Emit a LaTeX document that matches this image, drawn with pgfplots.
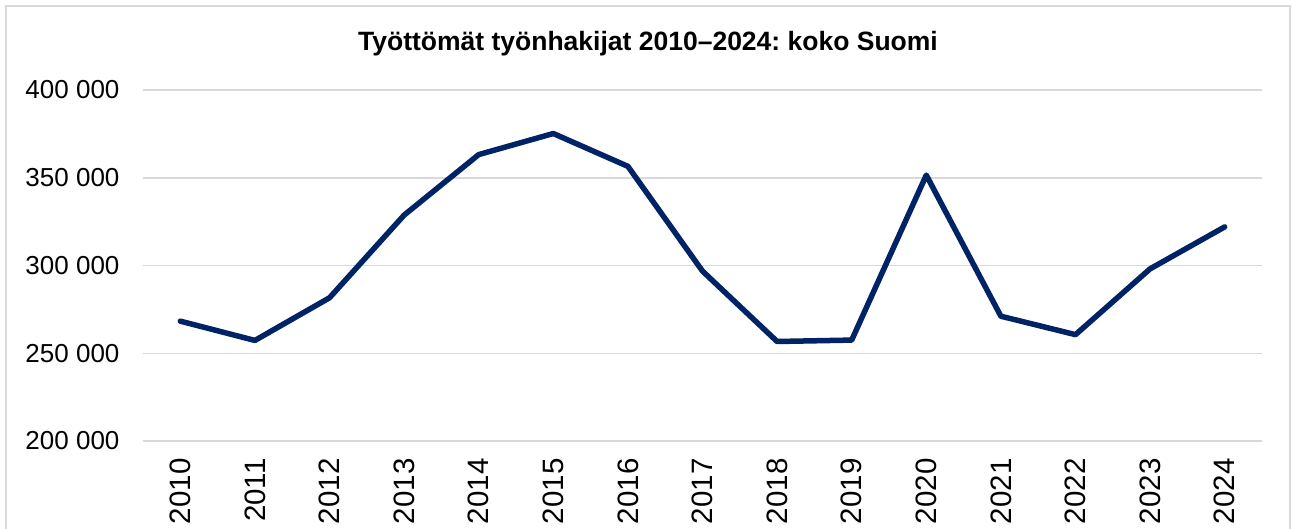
\documentclass[border=0pt]{standalone}
\usepackage{fontspec}
\setmainfont{Liberation Sans}
\usepackage{pgfplots}
\pgfplotsset{compat=1.18}
\definecolor{navy}{RGB}{0,35,102}
\definecolor{gridgray}{RGB}{217,217,217}
\begin{document}
\frenchspacing
\begin{tikzpicture}[x=1pt,y=1pt]
\useasboundingbox (0,0) rectangle (1292,528);
% chart frame (bottom edge cut off)
\draw[gridgray, line width=1.5pt] (6,-5) -- (6,522) -- (1290,522) -- (1290,-5);
\node[font=\bfseries\fontsize{26.5}{30}\selectfont] at (648,484) {Työttömät työnhakijat 2010–2024: koko Suomi};
\begin{axis}[
    at={(143pt,87pt)}, anchor=south west,
    scale only axis,
    width=1119pt, height=351pt,
    xmin=-0.5, xmax=14.5,
    ymin=200000, ymax=400000,
    scaled y ticks=false,
    axis line style={draw=none},
    xtick={0,...,14},
    xticklabels={2010,2011,2012,2013,2014,2015,2016,2017,2018,2019,2020,2021,2022,2023,2024},
    xticklabel style={rotate=90, anchor=east, font=\fontsize{29.5}{32}\selectfont, xshift=-14pt},
    ytick={200000,250000,300000,350000,400000},
    yticklabels={200 000,250 000,300 000,350 000,400 000},
    yticklabel style={font=\fontsize{26}{30}\selectfont, xshift=-20pt},
    major tick length=0pt,
    ymajorgrids=true,
    grid style={gridgray, line width=1.5pt},
    clip=false,
]
\addplot[navy, line width=5.5pt, line join=round, line cap=round] coordinates {
    (0,268300) (1,257300) (2,281600) (3,328700) (4,363200)
    (5,375200) (6,356500) (7,296800) (8,256700) (9,257500)
    (10,351500) (11,271100) (12,260600) (13,298100) (14,322000)
};
\end{axis}
\end{tikzpicture}
\end{document}
